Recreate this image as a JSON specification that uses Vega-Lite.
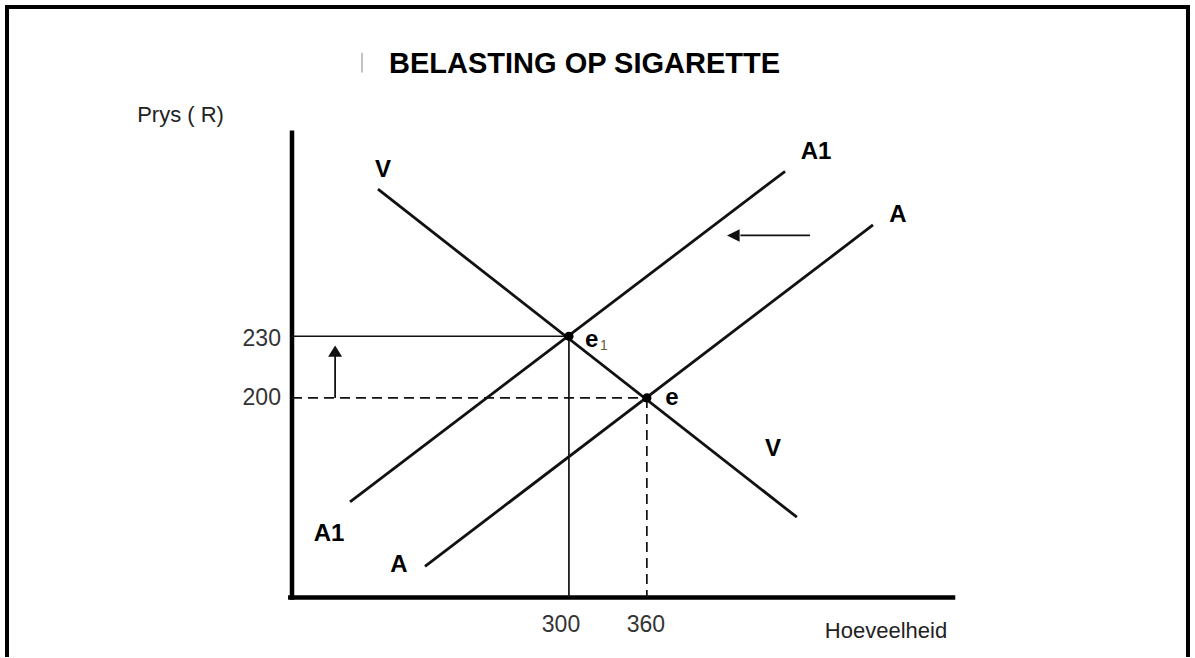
{
  "$schema": "https://vega.github.io/schema/vega-lite/v6.json",
  "width": 1195,
  "height": 658,
  "autosize": {"type": "fit", "contains": "padding"},
  "padding": 0,
  "background": "white",
  "config": {"view": {"stroke": null}},
  "datasets": {
    "border": [
      {"x": -132.6, "y": 75, "x2": -132.6, "y2": 390.1},
      {"x": -132.6, "y": 390.1, "x2": 776.6, "y2": 390.1},
      {"x": 776.6, "y": 390.1, "x2": 776.6, "y2": 75}
    ],
    "axes": [
      {"x": 86.8, "y": 103, "x2": 86.8, "y2": 329},
      {"x": 85.5, "y": 103, "x2": 595.7, "y2": 103}
    ],
    "curves": [
      {"curve": "V", "x": 153, "y": 301.5, "x2": 475.5, "y2": 142},
      {"curve": "A1", "x": 131.5, "y": 149.5, "x2": 466.4, "y2": 310.2},
      {"curve": "A", "x": 189.2, "y": 118.1, "x2": 534.1, "y2": 284.1}
    ],
    "solidGuides": [
      {"x": 86.8, "y": 230, "x2": 300, "y2": 230},
      {"x": 300, "y": 230, "x2": 300, "y2": 103}
    ],
    "dashedGuides": [
      {"x": 86.8, "y": 200, "x2": 360, "y2": 200},
      {"x": 360, "y": 200, "x2": 360, "y2": 103}
    ],
    "shafts": [
      {"x": 120, "y": 200, "x2": 120, "y2": 221},
      {"x": 485.6, "y": 279, "x2": 432, "y2": 279}
    ],
    "upTip": [{"x": 120, "y": 225.5}],
    "leftTip": [{"x": 421.7, "y": 279}],
    "equilibria": [
      {"label": "e1", "x": 300, "y": 230},
      {"label": "e", "x": 360, "y": 200}
    ],
    "boldLabels": [
      {"label": "V", "x": 156.9, "y": 310.7},
      {"label": "V", "x": 457.1, "y": 175.2},
      {"label": "A1", "x": 490.2, "y": 319.4},
      {"label": "A1", "x": 115.3, "y": 134},
      {"label": "A", "x": 553.3, "y": 288.9},
      {"label": "A", "x": 169.2, "y": 118.6},
      {"label": "e", "x": 317.5, "y": 228},
      {"label": "e", "x": 379.3, "y": 200}
    ],
    "subscript": [{"label": "1", "x": 327, "y": 225.3}],
    "yTicks": [
      {"label": "230", "x": 78.3, "y": 228.9},
      {"label": "200", "x": 78.3, "y": 200}
    ],
    "xTicks": [
      {"label": "300", "x": 293.9, "y": 89.5},
      {"label": "360", "x": 359.3, "y": 89.5}
    ],
    "axisTitles": [
      {"label": "Prys ( R)", "x": 1, "y": 337.8},
      {"label": "Hoeveelheid", "x": 544.1, "y": 86.6}
    ],
    "title": [{"label": "BELASTING OP SIGARETTE", "x": 312, "y": 362.5}],
    "bar": [{"x": 140.7, "y": 367.8, "x2": 140.7, "y2": 358.2}]
  },
  "encoding": {
    "x": {"field": "x", "type": "quantitative", "scale": {"domain": [-138, 782], "nice": false, "zero": false}, "axis": null},
    "y": {"field": "y", "type": "quantitative", "scale": {"domain": [75, 393.5], "nice": false, "zero": false}, "axis": null}
  },
  "layer": [
    {
      "data": {"name": "border"},
      "mark": {"type": "rule", "color": "#000000", "strokeWidth": 4, "strokeCap": "square"},
      "encoding": {"x2": {"field": "x2"}, "y2": {"field": "y2"}}
    },
    {
      "data": {"name": "bar"},
      "mark": {"type": "rule", "color": "#9a9a9a", "strokeWidth": 1.2},
      "encoding": {"x2": {"field": "x2"}, "y2": {"field": "y2"}}
    },
    {
      "data": {"name": "axes"},
      "mark": {"type": "rule", "color": "#000000", "strokeWidth": 4.5, "strokeCap": "square"},
      "encoding": {"x2": {"field": "x2"}, "y2": {"field": "y2"}}
    },
    {
      "data": {"name": "curves"},
      "mark": {"type": "rule", "color": "#111111", "strokeWidth": 2.8},
      "encoding": {"x2": {"field": "x2"}, "y2": {"field": "y2"}}
    },
    {
      "data": {"name": "solidGuides"},
      "mark": {"type": "rule", "color": "#111111", "strokeWidth": 1.7},
      "encoding": {"x2": {"field": "x2"}, "y2": {"field": "y2"}}
    },
    {
      "data": {"name": "dashedGuides"},
      "mark": {"type": "rule", "color": "#111111", "strokeWidth": 1.7, "strokeDash": [10, 6]},
      "encoding": {"x2": {"field": "x2"}, "y2": {"field": "y2"}}
    },
    {
      "data": {"name": "shafts"},
      "mark": {"type": "rule", "color": "#111111", "strokeWidth": 1.8},
      "encoding": {"x2": {"field": "x2"}, "y2": {"field": "y2"}}
    },
    {
      "data": {"name": "upTip"},
      "mark": {"type": "point", "shape": "M0,0L-0.5,0.8L0.5,0.8Z", "size": 784, "filled": true, "color": "#111111", "opacity": 1}
    },
    {
      "data": {"name": "leftTip"},
      "mark": {"type": "point", "shape": "M0,0L0.9,-0.45L0.9,0.45Z", "size": 784, "filled": true, "color": "#111111", "opacity": 1}
    },
    {
      "data": {"name": "equilibria"},
      "mark": {"type": "point", "shape": "circle", "size": 85, "filled": true, "color": "#000000", "opacity": 1}
    },
    {
      "data": {"name": "boldLabels"},
      "mark": {"type": "text", "font": "Liberation Sans", "fontWeight": "bold", "fontSize": 24, "color": "#000000", "align": "center", "baseline": "middle"},
      "encoding": {"text": {"field": "label"}}
    },
    {
      "data": {"name": "subscript"},
      "mark": {"type": "text", "font": "Liberation Sans", "fontSize": 14, "color": "#6b5a3a", "align": "center", "baseline": "middle"},
      "encoding": {"text": {"field": "label"}}
    },
    {
      "data": {"name": "yTicks"},
      "mark": {"type": "text", "font": "Liberation Sans", "fontSize": 23, "color": "#333333", "align": "right", "baseline": "middle"},
      "encoding": {"text": {"field": "label"}}
    },
    {
      "data": {"name": "xTicks"},
      "mark": {"type": "text", "font": "Liberation Sans", "fontSize": 23, "color": "#333333", "align": "center", "baseline": "middle"},
      "encoding": {"text": {"field": "label"}}
    },
    {
      "data": {"name": "axisTitles"},
      "mark": {"type": "text", "font": "Liberation Sans", "fontSize": 22, "color": "#222222", "align": "center", "baseline": "middle"},
      "encoding": {"text": {"field": "label"}}
    },
    {
      "data": {"name": "title"},
      "mark": {"type": "text", "font": "Liberation Sans", "fontWeight": "bold", "fontSize": 29, "color": "#000000", "align": "center", "baseline": "middle"},
      "encoding": {"text": {"field": "label"}}
    }
  ]
}
